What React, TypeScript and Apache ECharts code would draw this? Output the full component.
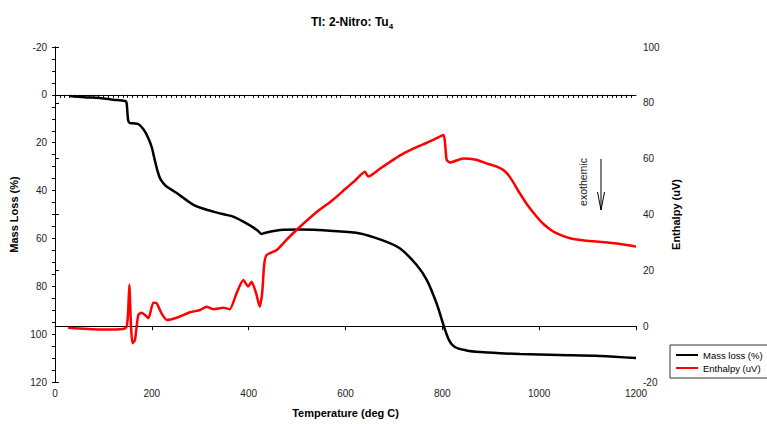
import React, { useEffect, useRef } from "react";
import * as echarts from "echarts";

const massTemp = [31, 60, 93, 120, 145, 148, 151, 155, 162, 172, 183, 193, 200, 206, 212, 217, 224, 231, 245, 262, 275, 286, 305, 327, 350, 368, 389, 410, 420, 427, 435, 444, 465, 506, 575, 630, 671, 712, 747, 768, 788, 812, 826, 850, 878, 920, 960, 1040, 1126, 1200];
const massLoss = [0.5, 1, 1.3, 2, 2.6, 3.5, 10.5, 11.8, 11.9, 12.2, 14.5, 18.2, 22, 27.2, 32, 34.9, 37, 38.4, 40.2, 42.6, 44.5, 46, 47.5, 48.8, 50, 50.9, 53, 55.5, 57, 58.1, 57.6, 57.2, 56.5, 56.3, 56.9, 57.9, 60.4, 64.1, 71.1, 77.4, 87.1, 101.7, 105.4, 106.8, 107.5, 108, 108.3, 108.7, 109.1, 110];

const enthTemp = [27, 93, 141, 148, 151, 153.5, 157, 160, 165, 172, 179, 186, 193, 203, 210, 220, 231, 251, 279, 300, 313, 327, 348, 361, 375, 389, 399, 406, 415, 423, 428, 432, 437, 458, 478, 506, 540, 575, 600, 620, 640, 647, 671, 690, 712, 740, 760, 781, 802, 809, 816, 843, 870, 891, 910, 926, 940, 960, 975, 995, 1010, 1029, 1045, 1064, 1090, 1119, 1160, 1194, 1200];
const enthalpy = [-0.6, -1.2, -1, -0.2, 5, 14.8, 0, -6.1, -5, 4, 4.8, 4, 2.8, 8.4, 8.2, 4.6, 2.2, 3, 5, 5.8, 7, 6.1, 6.6, 6.1, 11.8, 16.5, 14.2, 15.9, 12, 7, 12, 22, 25.5, 27.3, 30.9, 35.6, 40.8, 45.4, 49.2, 52.2, 55.3, 53.6, 56.4, 58.6, 61.1, 63.6, 65.1, 66.7, 68.5, 59.5, 58.6, 60.1, 59.6, 58.3, 57.3, 55.9, 53.3, 47.6, 43.6, 39.2, 36.4, 33.9, 32.6, 31.5, 30.8, 30.3, 29.6, 28.7, 28.5];

const xTicks = [0, 200, 400, 600, 800, 1000, 1200];
const seriesNames = ["Mass loss (%)", "Enthalpy (uV)"];

const FONT = "Liberation Sans, Arial, sans-serif";

export default function App() {
  const ref = useRef<HTMLDivElement>(null);
  useEffect(() => {
    if (!ref.current) return;
    const chart = echarts.init(ref.current, undefined, { renderer: "svg" });
    const massData = massTemp.map((t, i) => [t, massLoss[i]]);
    const enthData = enthTemp.map((t, i) => [t, enthalpy[i]]);
    const labelStyle = { color: "#222", fontSize: 10, fontFamily: FONT };
    chart.setOption({
      animation: false,
      backgroundColor: "#fff",
      textStyle: { fontFamily: FONT },
      title: {
        text: "{a|Tl: 2-Nitro: Tu}{b|4}",
        left: 347,
        textAlign: "center",
        top: 9,
        textStyle: {
          rich: {
            a: { fontSize: 12, fontWeight: "bold", color: "#000", fontFamily: FONT },
            b: { fontSize: 8, fontWeight: "bold", color: "#000", fontFamily: FONT, padding: [8, 0, 0, 0] },
          },
        },
      },
      legend: {
        orient: "vertical",
        left: 670,
        top: 345,
        padding: [5, 20, 5, 6],
        itemGap: 3,
        itemWidth: 22,
        itemHeight: 2,
        icon: "rect",
        borderColor: "#333",
        borderWidth: 1,
        textStyle: { fontSize: 9.5, color: "#000", fontFamily: FONT },
        data: seriesNames,
      },
      grid: { left: 55, right: 131, top: 47, bottom: 42 },
      xAxis: [
        {
          type: "value",
          min: 0,
          max: 1200,
          interval: 200,
          position: "bottom",
          name: "Temperature (deg C)",
          nameLocation: "middle",
          nameGap: 25,
          nameTextStyle: { fontSize: 11, fontWeight: "bold", color: "#000", fontFamily: FONT },
          axisLine: { lineStyle: { color: "#000", width: 1 } },
          axisTick: { show: false },
          minorTick: { show: true, splitNumber: 20, length: 3, lineStyle: { color: "#000" } },
          axisLabel: { ...labelStyle, margin: 6, formatter: (v: number) => (xTicks.includes(v) ? String(v) : "") },
          splitLine: { show: false },
        },
        {
          type: "value",
          min: 0,
          max: 1200,
          interval: 200,
          position: "top",
          axisLine: { lineStyle: { color: "#000", width: 1 } },
          axisTick: { show: true, inside: true, length: 4, lineStyle: { color: "#000" } },
          axisLabel: { show: false },
          splitLine: { show: false },
        },
      ],
      yAxis: [
        {
          type: "value",
          inverse: true,
          min: -20,
          max: 120,
          interval: 20,
          position: "left",
          name: "Mass Loss (%)",
          nameLocation: "middle",
          nameGap: 32,
          nameTextStyle: { fontSize: 11, fontWeight: "bold", color: "#000", fontFamily: FONT },
          axisLine: { show: true, lineStyle: { color: "#000", width: 1 } },
          axisTick: { show: true, length: 3, lineStyle: { color: "#000" } },
          minorTick: { show: true, splitNumber: 4, length: 3, lineStyle: { color: "#000" } },
          axisLabel: { ...labelStyle, margin: 8 },
          splitLine: { show: false },
        },
        {
          type: "value",
          min: -20,
          max: 100,
          interval: 20,
          position: "right",
          name: "Enthalpy (uV)",
          nameLocation: "middle",
          nameGap: 34,
          nameTextStyle: { fontSize: 11, fontWeight: "bold", color: "#000", fontFamily: FONT },
          axisLine: { show: true, lineStyle: { color: "#000", width: 1 } },
          axisTick: { show: true, length: 4, lineStyle: { color: "#000" } },
          axisLabel: { ...labelStyle, margin: 7 },
          splitLine: { show: false },
        },
      ],
      series: [
        {
          name: seriesNames[0],
          type: "line",
          xAxisIndex: 0,
          yAxisIndex: 0,
          data: massData,
          showSymbol: false,
          smooth: 0.3,
          lineStyle: { color: "#000", width: 2.5 },
          itemStyle: { color: "#000" },
        },
        {
          name: seriesNames[1],
          type: "line",
          xAxisIndex: 0,
          yAxisIndex: 1,
          data: enthData,
          showSymbol: false,
          smooth: 0.2,
          lineStyle: { color: "#ff0000", width: 2.5 },
          itemStyle: { color: "#ff0000" },
        },
      ],
      graphic: [
        {
          type: "text",
          x: 583,
          y: 182,
          rotation: Math.PI / 2,
          style: {
            text: "exothemic",
            fontSize: 10.5,
            fontFamily: FONT,
            fill: "#222",
            align: "center",
            verticalAlign: "middle",
          },
        },
        {
          type: "line",
          shape: { x1: 601, y1: 159, x2: 601, y2: 210 },
          style: { stroke: "#000", lineWidth: 1 },
        },
        {
          type: "polyline",
          shape: { points: [[597.5, 192], [601, 210], [604.5, 192]] },
          style: { stroke: "#000", lineWidth: 1, fill: "none" },
        },
      ],
    });
    return () => chart.dispose();
  }, []);
  return <div ref={ref} style={{ width: 767, height: 424, position: "absolute", left: 0, top: 0 }} />;
}
